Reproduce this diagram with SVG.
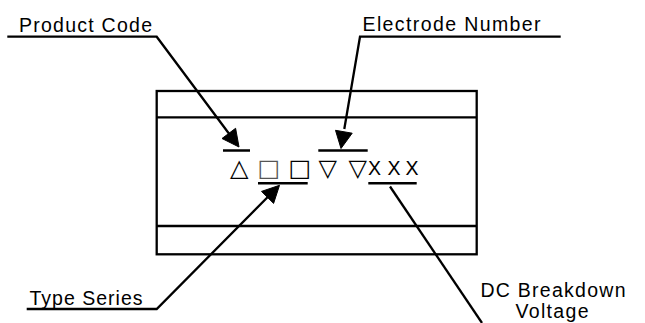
<svg xmlns="http://www.w3.org/2000/svg" width="645" height="323" viewBox="0 0 645 323">
<style>
.lbl{font-family:"Liberation Sans",Arial,sans-serif;font-size:19.5px;fill:#000}
.ln{fill:none;stroke:#000;stroke-width:2.3}
.bar{stroke:#000;stroke-width:2.5}
.ah{fill:#000;stroke:#000;stroke-width:1;stroke-linejoin:miter}
.sym{font-family:"DejaVu Sans",sans-serif;font-size:24px;fill:#000}
.xx{font-family:"Liberation Sans",Arial,sans-serif;font-size:19.5px;fill:#000}
</style>
<rect width="645" height="323" fill="#fff"/>
<g id="device">
<rect x="156.7" y="91" width="320" height="163.3" class="ln"/>
<line x1="156.7" y1="117.3" x2="476.7" y2="117.3" class="ln"/>
<line x1="156.7" y1="226" x2="476.7" y2="226" class="ln"/>
</g>
<g id="code">
<text class="sym"><tspan x="230" y="176">△</tspan><tspan x="257.5" y="176" fill="#555">□</tspan><tspan x="288.5" y="176">□</tspan><tspan x="318.5" y="176">▽</tspan><tspan x="348.5" y="176">▽</tspan></text>
<text class="xx" y="175"><tspan x="368">X</tspan><tspan x="387.5">X</tspan><tspan x="405.5">X</tspan></text>
<line x1="223" y1="150.5" x2="250" y2="150.5" class="bar"/>
<line x1="318.3" y1="150.5" x2="367.7" y2="150.5" class="bar"/>
<line x1="258" y1="183.3" x2="307.7" y2="183.3" class="bar"/>
<line x1="368.3" y1="183.3" x2="416.7" y2="183.3" class="bar"/>
</g>
<g id="label-product-code"><text class="lbl" x="19" y="31.7" textLength="133" lengthAdjust="spacing">Product Code</text></g>
<g id="label-electrode-number"><text class="lbl" x="362.5" y="31" textLength="178" lengthAdjust="spacing">Electrode Number</text></g>
<g id="label-type-series"><text class="lbl" x="29.5" y="305" textLength="113" lengthAdjust="spacing">Type Series</text></g>
<g id="label-dc-breakdown"><text class="lbl" x="480.5" y="296.7" textLength="145" lengthAdjust="spacing">DC Breakdown</text><text class="lbl" x="515.5" y="318.3" textLength="73" lengthAdjust="spacing">Voltage</text></g>
<g id="connectors">
<path d="M7.3,36.7 H156.7 L230,135" class="ln"/>
<polygon points="239,147 222,138.5 235.6,128.3" class="ah"/>
<path d="M560.7,36.7 H360 L344.3,129" class="ln"/>
<polygon points="341,148.5 335.5,130.3 352.2,133.2" class="ah"/>
<path d="M26.7,309 H156.7 L269,195.8" class="ln"/>
<polygon points="279.5,185.3 273.6,203.4 261.5,191.4" class="ah"/>
<path d="M390,186.5 L482,323" class="ln"/>
</g>
</svg>
